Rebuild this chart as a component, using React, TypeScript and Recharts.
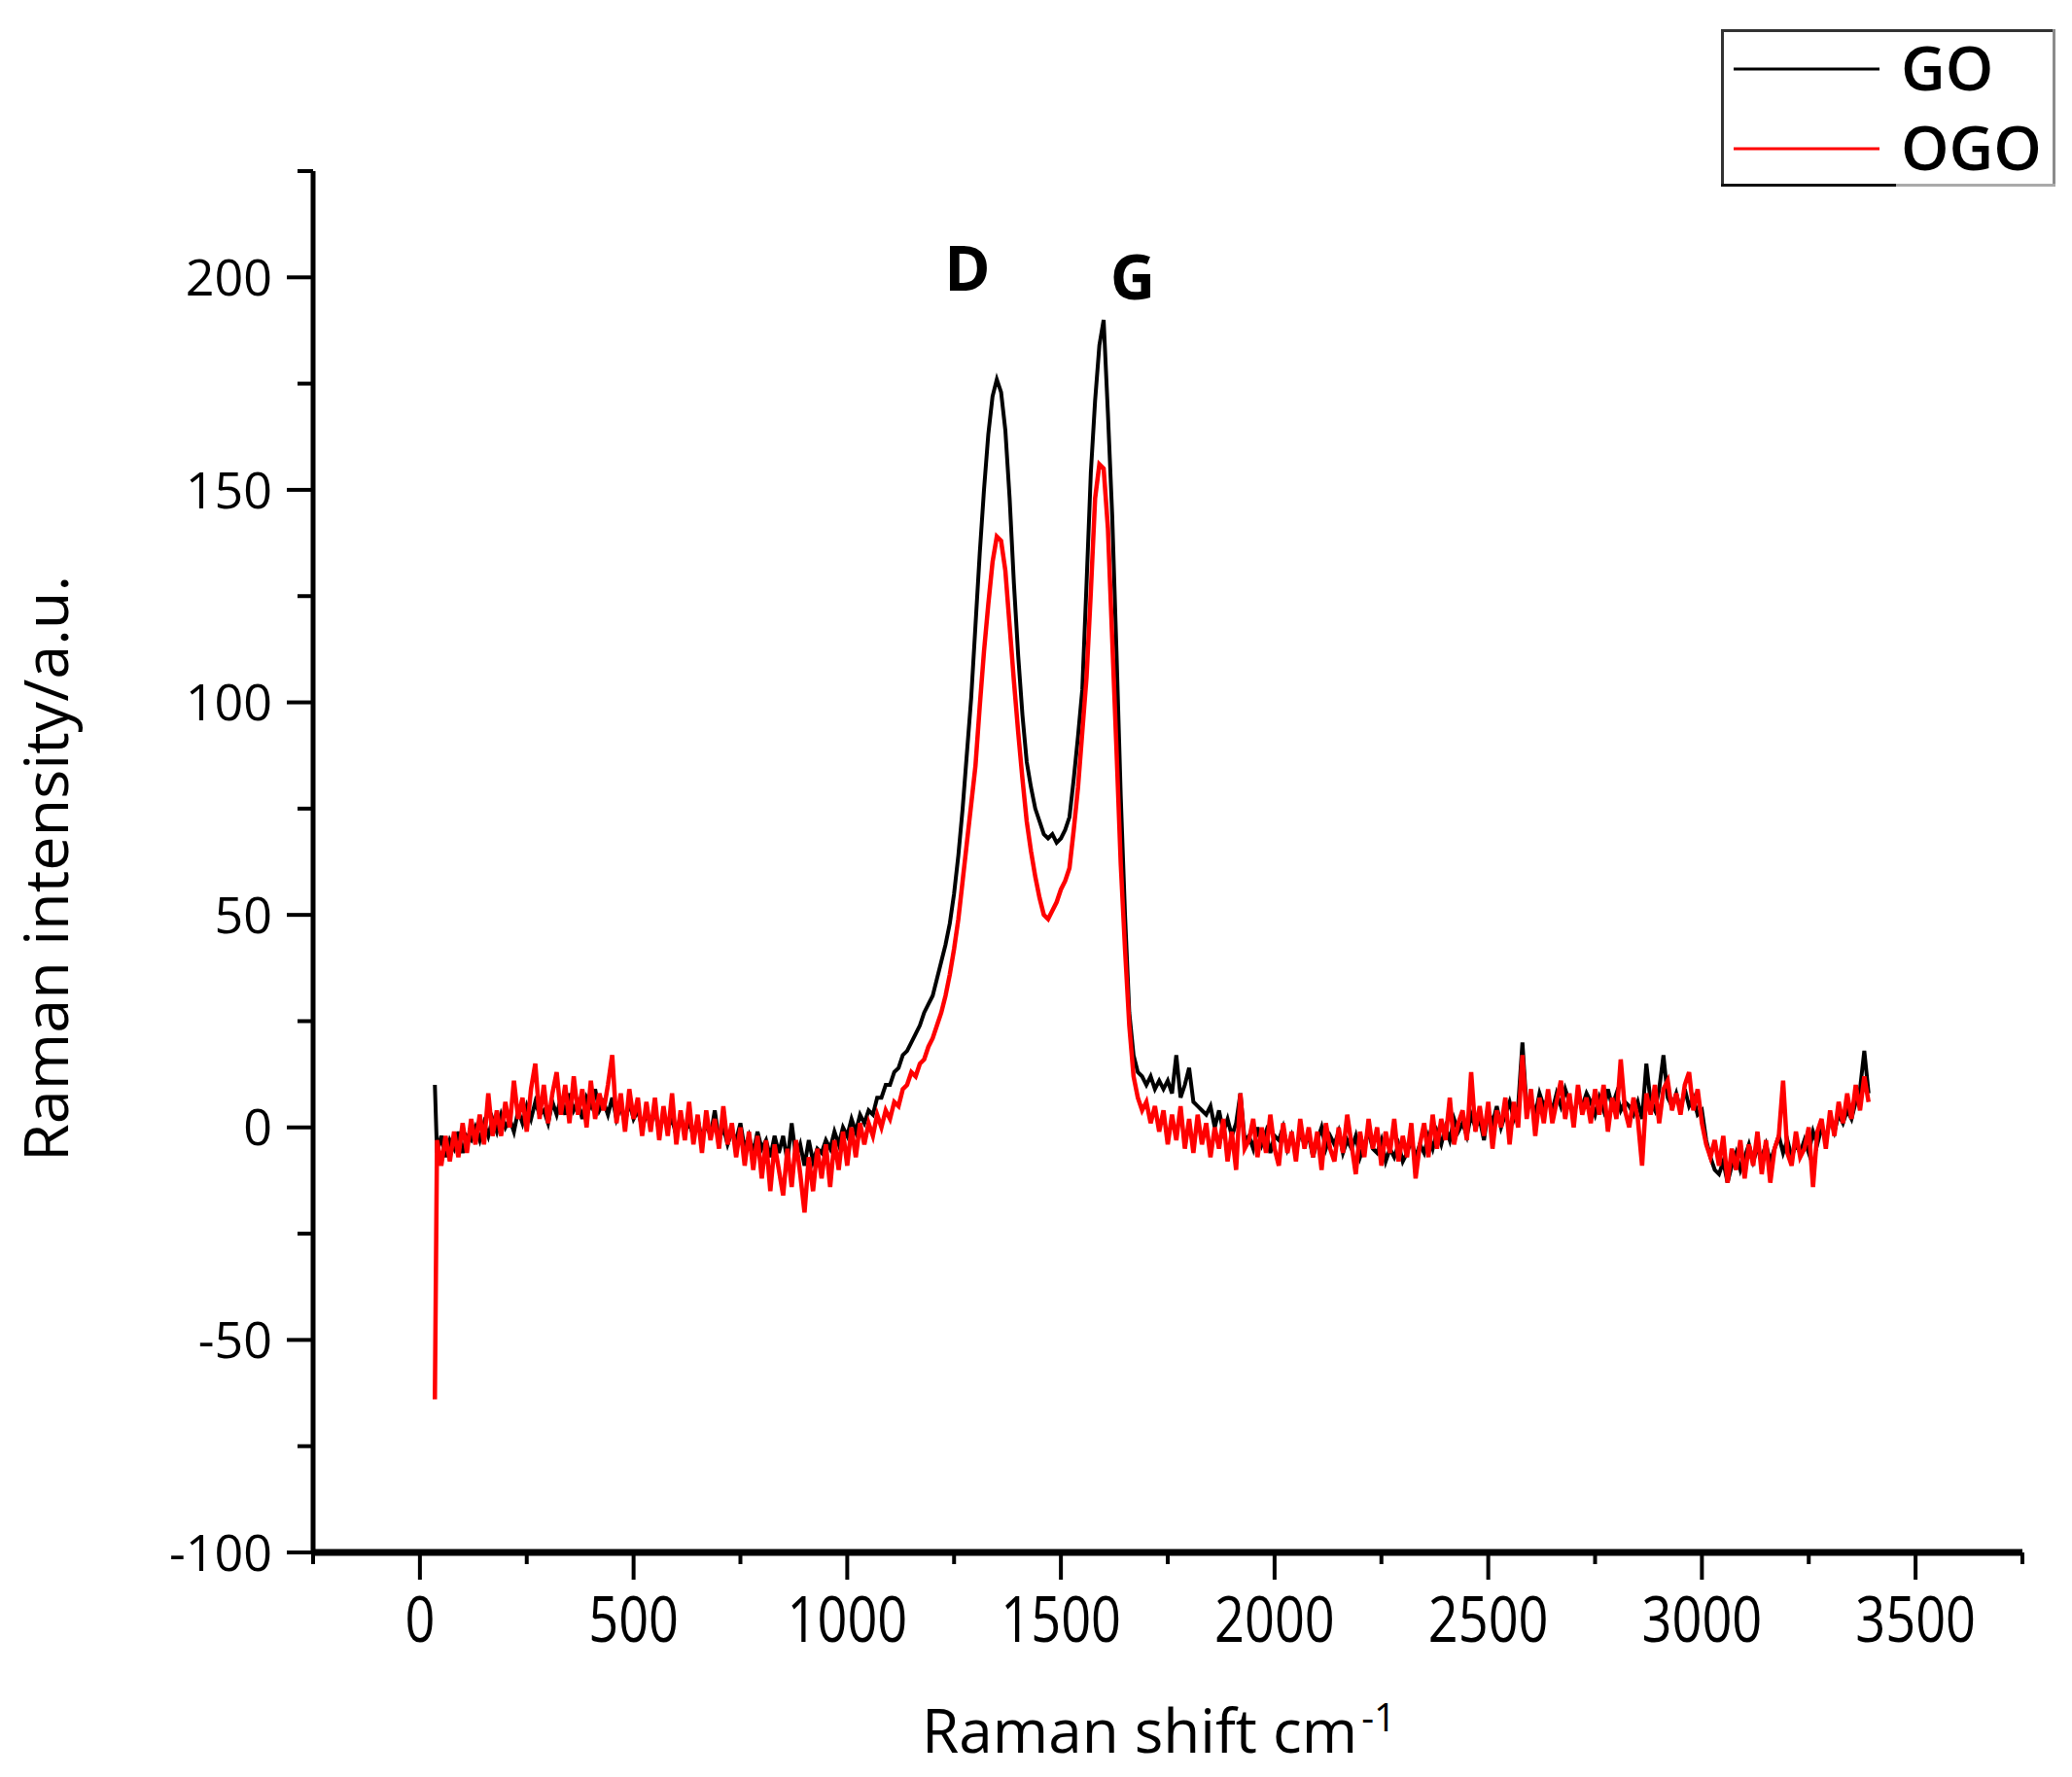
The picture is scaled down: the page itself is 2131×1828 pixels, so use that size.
import { Label, Legend, Line, LineChart, ReferenceDot, XAxis, YAxis } from "recharts";

const FONT = '"Open Sans", "DejaVu Sans", sans-serif';

// Raman shift grid (cm-1)
const shiftCm = [
  35,
  40, 50, 60, 70, 80, 90, 100, 110, 120, 130,
  140, 150, 160, 170, 180, 190, 200, 210, 220, 230,
  240, 250, 260, 270, 280, 290, 300, 310, 320, 330,
  340, 350, 360, 370, 380, 390, 400, 410, 420, 430,
  440, 450, 460, 470, 480, 490, 500, 510, 520, 530,
  540, 550, 560, 570, 580, 590, 600, 610, 620, 630,
  640, 650, 660, 670, 680, 690, 700, 710, 720, 730,
  740, 750, 760, 770, 780, 790, 800, 810, 820, 830,
  840, 850, 860, 870, 880, 890, 900, 910, 920, 930,
  940, 950, 960, 970, 980, 990, 1000, 1010, 1020, 1030,
  1040, 1050, 1060, 1070, 1080, 1090, 1100, 1110, 1120, 1130,
  1140, 1150, 1160, 1170, 1180, 1190, 1200, 1210, 1220, 1230,
  1240, 1250, 1260, 1270, 1280, 1290, 1300, 1310, 1320, 1330,
  1340, 1350, 1360, 1370, 1380, 1390, 1400, 1410, 1420, 1430,
  1440, 1450, 1460, 1470, 1480, 1490, 1500, 1510, 1520, 1530,
  1540, 1550, 1560, 1570, 1580, 1590, 1600, 1610, 1620, 1630,
  1640, 1650, 1660, 1670, 1680, 1690, 1700, 1710, 1720, 1730,
  1740, 1750, 1760, 1770, 1780, 1790, 1800, 1810, 1820, 1830,
  1840, 1850, 1860, 1870, 1880, 1890, 1900, 1910, 1920, 1930,
  1940, 1950, 1960, 1970, 1980, 1990, 2000, 2010, 2020, 2030,
  2040, 2050, 2060, 2070, 2080, 2090, 2100, 2110, 2120, 2130,
  2140, 2150, 2160, 2170, 2180, 2190, 2200, 2210, 2220, 2230,
  2240, 2250, 2260, 2270, 2280, 2290, 2300, 2310, 2320, 2330,
  2340, 2350, 2360, 2370, 2380, 2390, 2400, 2410, 2420, 2430,
  2440, 2450, 2460, 2470, 2480, 2490, 2500, 2510, 2520, 2530,
  2540, 2550, 2560, 2570, 2580, 2590, 2600, 2610, 2620, 2630,
  2640, 2650, 2660, 2670, 2680, 2690, 2700, 2710, 2720, 2730,
  2740, 2750, 2760, 2770, 2780, 2790, 2800, 2810, 2820, 2830,
  2840, 2850, 2860, 2870, 2880, 2890, 2900, 2910, 2920, 2930,
  2940, 2950, 2960, 2970, 2980, 2990, 3000, 3010, 3020, 3030,
  3040, 3050, 3060, 3070, 3080, 3090, 3100, 3110, 3120, 3130,
  3140, 3150, 3160, 3170, 3180, 3190, 3200, 3210, 3220, 3230,
  3240, 3250, 3260, 3270, 3280, 3290, 3300, 3310, 3320, 3330,
  3340, 3350, 3360, 3370, 3380, 3390,
];

// GO spectrum (a.u.)
const goIntensity = [
  10,
  -6, -2, -7, -3, -5, -1, -6, -2, -3, 0,
  -3, 1, -2, 2, -1, 3, 0, 2, -1, 4,
  1, 5, 2, 6, 3, 4, 1, 6, 3, 7,
  3, 8, 4, 6, 2, 7, 5, 9, 4, 6,
  3, 7, 2, 5, 1, 6, 2, 4, 0, 3,
  1, 4, -1, 3, 0, 2, -2, 3, -1, 1,
  -2, 2, -3, 1, -2, 4, -3, 0, -4, -1,
  -3, 1, -5, -2, -6, -1, -5, -3, -7, -2,
  -6, -2, -8, 1, -7, -4, -9, -3, -8, -5,
  -6, -3, -5, -1, -4, 0, -2, 2, -1, 3,
  1, 4, 3, 7, 7, 10, 10, 13, 14, 17,
  18, 20, 22, 24, 27, 29, 31, 35, 39, 43,
  48, 55, 64, 75, 88, 101, 118, 135, 150, 163,
  172, 176, 173, 164, 148, 128, 111, 97, 86, 80,
  75, 72, 69, 68, 69, 67, 68, 70, 73, 82,
  92, 103, 128, 154, 171, 184, 190, 168, 144, 112,
  78, 50, 27, 17, 13, 12, 10, 12, 9, 11,
  9, 11, 8, 17, 7, 10, 14, 6, 5, 4,
  3, 5, 0, 4, -1, 2, -2, 1, 8, -3,
  -2, -5, 0, -4, -1, -6, -2, -3, 0, -5,
  -2, -6, -1, -4, -2, -7, -3, 0, -5, -2,
  -4, -1, -6, -3, -5, -2, -7, -4, -1, -5,
  -6, -3, -8, -5, -7, -4, -8, -6, -3, -7,
  -4, -6, -2, -5, -1, -4, 0, -3, 2, -1,
  1, -2, 3, 0, 2, -3, 4, 1, 5, 0,
  3, 6, 2, 5, 20, 4, 7, 3, 8, 5,
  7, 4, 8, 5, 9, 6, 3, 7, 5, 8,
  6, 3, 7, 4, 9, 5, 8, 4, 6, 5,
  3, 6, 2, 15, 6, 4, 9, 17, 7, 5,
  8, 4, 9, 5, 7, 3, 4, -3, -7, -10,
  -11, -8, -13, -9, -6, -10, -7, -4, -8, -5,
  -7, -4, -8, -5, -2, -6, -3, -7, -4, -6,
  -3, -6, -1, -4, 0, -3, 2, -1, 3, 1,
  4, 2, 6, 9, 18, 8,
];

// OGO spectrum (a.u.)
const ogoIntensity = [
  -64,
  -3, -9, -2, -8, -1, -7, 1, -6, 2, -4,
  3, -4, 8, -2, 4, -2, 6, 0, 11, 2,
  7, -1, 9, 15, 2, 10, 1, 8, 13, 3,
  10, 1, 12, 3, 9, 0, 11, 2, 8, 4,
  10, 17, 1, 8, -1, 9, 2, 7, -2, 6,
  -1, 7, -3, 5, -2, 8, -4, 4, -3, 6,
  -4, 3, -6, 4, -3, 2, -5, 5, -4, 1,
  -7, 0, -9, -1, -10, -2, -12, -3, -15, -4,
  -10, -16, -5, -14, -3, -11, -20, -7, -15, -5,
  -12, -4, -14, -3, -10, -1, -9, 0, -7, 1,
  -4, 1, -2, 3, 0, 4, 2, 6, 5, 9,
  10, 13, 12, 15, 16, 19, 21, 24, 27, 31,
  36, 42, 49, 58, 67, 76, 85, 99, 112, 123,
  133, 139, 138, 131, 118, 105, 93, 82, 72, 65,
  59, 54, 50, 49, 51, 53, 56, 58, 61, 70,
  80, 93, 106, 126, 148, 156, 155, 141, 115, 89,
  62, 42, 24, 12, 7, 4, 6, 1, 5, -1,
  4, -4, 3, -3, 5, -5, 2, -6, 3, -4,
  1, -7, 0, -5, 2, -8, -1, -10, 8, -5,
  -3, 2, -7, 0, -6, 3, -5, -9, 1, -6,
  -1, -8, 2, -5, 0, -7, -1, -10, 1, -5,
  -8, 0, -6, 3, -4, -11, -1, -7, 2, -5,
  0, -9, -1, -6, 2, -8, -2, -7, 1, -12,
  -4, 1, -7, 3, -5, 2, -3, 7, -4, 1,
  4, -3, 13, -1, 5, -2, 6, -5, 4, 0,
  7, -4, 6, 0, 17, 2, 9, -2, 7, 1,
  9, 1, 6, 11, 2, 8, 0, 10, 3, 7,
  1, 9, 3, 10, -1, 7, 2, 16, 4, 0,
  7, 2, -9, 8, 3, 10, 1, 9, 11, 4,
  8, 3, 10, 13, 4, 9, 1, -4, -7, -3,
  -9, -2, -13, -5, -10, -3, -12, -4, -9, -1,
  -11, -3, -13, -5, -2, 11, -6, -9, -1, -7,
  -5, 0, -14, -1, 2, -5, 4, -2, 6, 1,
  8, 2, 10, 4, 12, 6,
];

const xTicks = [
  -250, 0, 250, 500, 750, 1000, 1250, 1500, 1750, 2000, 2250, 2500, 2750, 3000,
  3250, 3500, 3750,
];
const yTicks = [-100, -75, -50, -25, 0, 25, 50, 75, 100, 125, 150, 175, 200, 225];

// band names placed above the two peaks
const bandLabels = [
  { band: "D", shift: 1281, intensity: 202 },
  { band: "G", shift: 1668, intensity: 200 },
];

const data = shiftCm.map((shift, i) => ({
  shift,
  go: goIntensity[i],
  ogo: ogoIntensity[i],
}));

const XTick = ({ x, y, payload }: any) => {
  const v = payload.value;
  const major = v >= 0 && v % 500 === 0;
  return (
    <g>
      <line x1={x} x2={x} y1={y} y2={y + (major ? 28 : 12)} stroke="#000" strokeWidth={4} />
      {major && (
        <text
          transform={`translate(${x},${y + 92}) scale(0.82,1)`}
          textAnchor="middle"
          fontSize={66}
          fontFamily={FONT}
          fill="#000"
        >
          {v}
        </text>
      )}
    </g>
  );
};

const YTick = ({ x, y, payload }: any) => {
  const v = payload.value;
  const major = v % 50 === 0;
  return (
    <g>
      <line x1={x - (major ? 27 : 16)} x2={x} y1={y} y2={y} stroke="#000" strokeWidth={4} />
      {major && (
        <text
          x={x - 42}
          y={y}
          dy="0.36em"
          textAnchor="end"
          fontSize={52}
          fontFamily={FONT}
          fill="#000"
        >
          {v}
        </text>
      )}
    </g>
  );
};

const XTitle = ({ viewBox }: any) => {
  const { x, y, width } = viewBox;
  return (
    <text
      x={x + width / 2 - 9}
      y={y + 206}
      textAnchor="middle"
      fontSize={62}
      fontFamily={FONT}
      fill="#000"
    >
      Raman shift cm
      <tspan fontSize={40} dx={4} dy={-22}>
        -1
      </tspan>
    </text>
  );
};

const YTitle = ({ viewBox }: any) => {
  const { y, height } = viewBox;
  const cy = y + height / 2 + 7;
  return (
    <text
      x={70}
      y={cy}
      transform={`rotate(-90, 70, ${cy})`}
      textAnchor="middle"
      fontSize={63}
      fontFamily={FONT}
      fill="#000"
    >
      Raman intensity/a.u.
    </text>
  );
};

// framed legend; the frame starts 30px below the top of the svg
const LegendBox = ({ payload }: any) => (
  <svg width={344} height={200} style={{ display: "block" }}>
    <g transform="translate(0,30)">
      <rect x={0} y={0} width={344} height={162} fill="#fff" />
      <line x1={0} x2={344} y1={1.5} y2={1.5} stroke="#333" strokeWidth={3} />
      <line x1={1.5} x2={1.5} y1={0} y2={162} stroke="#333" strokeWidth={3} />
      <line x1={342.5} x2={342.5} y1={0} y2={162} stroke="#8c8c8c" strokeWidth={3} />
      <line x1={0} x2={180} y1={160.5} y2={160.5} stroke="#111" strokeWidth={3} />
      <line x1={180} x2={344} y1={160.5} y2={160.5} stroke="#aaa" strokeWidth={3} />
      {(payload || []).map((item: any, i: number) => (
        <g key={item.value}>
          <line
            x1={13}
            x2={163}
            y1={41 + i * 82}
            y2={41 + i * 82}
            stroke={item.color}
            strokeWidth={3}
          />
          <text
            x={185}
            y={63 + i * 82}
            fontSize={63}
            fontWeight={600}
            fontFamily={FONT}
            fill="#000"
          >
            {item.value}
          </text>
        </g>
      ))}
    </g>
  </svg>
);

export default function App() {
  return (
    <div
      style={{
        position: "absolute",
        left: 0,
        top: 0,
        width: 2131,
        height: 1828,
        background: "#fff",
        fontFamily: FONT,
      }}
    >
      <LineChart
        width={2131}
        height={1828}
        data={data}
        margin={{ top: 176, right: 51, bottom: 0, left: 0 }}
      >
        <XAxis
          dataKey="shift"
          type="number"
          domain={[-250, 3750]}
          ticks={xTicks}
          interval={0}
          height={231}
          tickSize={0}
          tickMargin={0}
          tickLine={false}
          tick={<XTick />}
          axisLine={{ stroke: "#000", strokeWidth: 7 }}
          allowDataOverflow
        >
          <Label content={<XTitle />} />
        </XAxis>
        <YAxis
          type="number"
          domain={[-100, 225]}
          ticks={yTicks}
          interval={0}
          width={322}
          tickSize={0}
          tickMargin={0}
          tickLine={false}
          tick={<YTick />}
          axisLine={{ stroke: "#000", strokeWidth: 5 }}
          allowDataOverflow
        >
          <Label content={<YTitle />} />
        </YAxis>
        <Legend
          layout="horizontal"
          verticalAlign="middle"
          align="center"
          content={<LegendBox />}
          wrapperStyle={{ position: "absolute", left: 1770, top: 0, width: 344, height: 200 }}
        />
        <Line
          type="linear"
          dataKey="go"
          name="GO"
          stroke="#000000"
          strokeWidth={4}
          dot={false}
          isAnimationActive={false}
        />
        <Line
          type="linear"
          dataKey="ogo"
          name="OGO"
          stroke="#ff0000"
          strokeWidth={4.5}
          dot={false}
          isAnimationActive={false}
        />
        {bandLabels.map((b) => (
          <ReferenceDot
            key={b.band}
            x={b.shift}
            y={b.intensity}
            r={0}
            fill="none"
            stroke="none"
            label={{
              value: b.band,
              position: "center",
              fontSize: 64,
              fontWeight: 700,
              fontFamily: FONT,
              fill: "#000",
            }}
          />
        ))}
      </LineChart>
    </div>
  );
}
